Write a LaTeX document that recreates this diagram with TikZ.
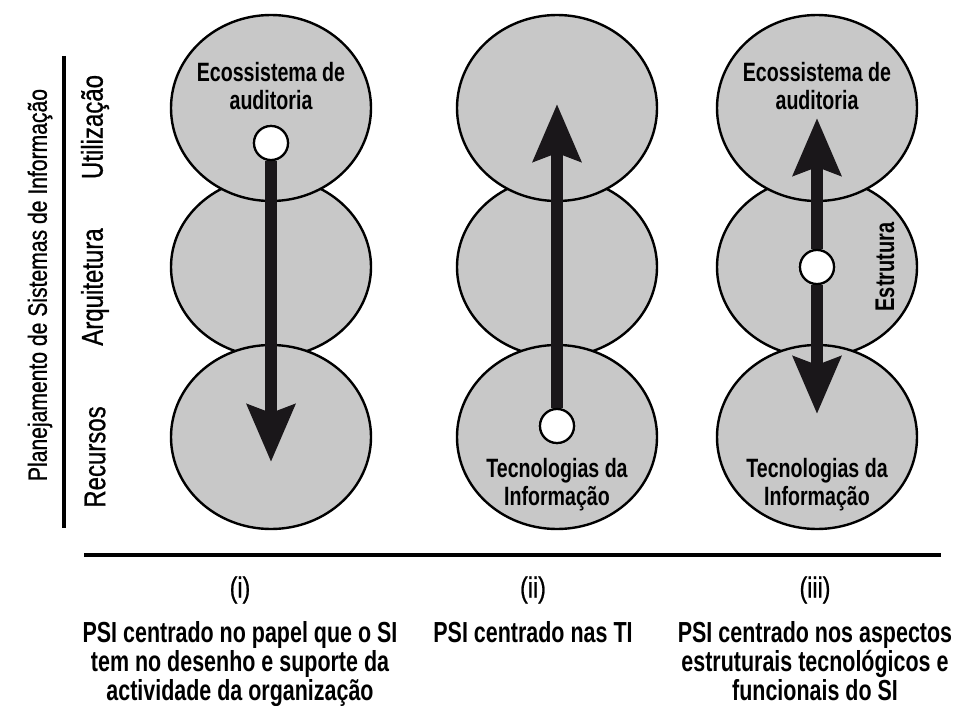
\documentclass[tikz,border=0pt]{standalone}
\usepackage{fontspec}
\setmainfont{Liberation Sans}[FakeStretch=0.74,UprightFont=*-Bold]
\newfontfamily\plainfont{Liberation Sans}[FakeStretch=0.8,FakeBold=0.8]
\usetikzlibrary{arrows.meta,shapes.geometric}
\definecolor{discfill}{RGB}{200,200,200}
\definecolor{arrowink}{RGB}{26,23,26}

\begin{document}
\begin{tikzpicture}[x=1pt,y=-1pt,
  disc/.style={ellipse,draw=black,line width=2.4pt,fill=discfill,
    minimum width=200pt,minimum height=184pt,inner sep=0pt},
  hub/.style={circle,draw=black,line width=2.2pt,fill=white,
    minimum size=34pt,inner sep=0pt},
  flow/.style={draw=arrowink,line width=12pt,
    -{Stealth[length=57pt,width=47pt,inset=8pt]}},
  disclabel/.style={align=center,font=\fontsize{26.5}{28}\selectfont,inner sep=0pt},
  sidelabel/.style={rotate=90,font=\plainfont\fontsize{30}{30}\selectfont,inner sep=0pt},
  caption/.style={align=center,font=\fontsize{29}{29}\selectfont,inner sep=0pt},
  numlabel/.style={font=\plainfont\fontsize{29}{29}\selectfont,inner sep=0pt},
  rule/.style={line width=3.6pt}
]
\useasboundingbox (0,0) rectangle (953,706);

% axis title and level labels
\node[sidelabel,font=\plainfont\fontsize{26.4}{28}\selectfont] (title) at (40,285) {Planejamento de Sistemas de Informação};
\node[sidelabel] (lvlU) at (95,127) {Utilização};
\node[sidelabel] (lvlA) at (95,287) {Arquitetura};
\node[sidelabel] (lvlR) at (95,457) {Recursos};
\coordinate (vtop) at (64,56);
\coordinate (vbot) at (64,528);
\draw[rule] (vtop) -- (vbot);
\coordinate (hl) at (84,555);
\coordinate (hr) at (941,555);
\draw[rule] (hl) -- (hr);

% three stacks of discs: middle first, then top and bottom over it
\foreach \c/\x in {a/271,b/557,c/817}{
  \node[disc,minimum height=180pt] (\c mid) at (\x,267) {};
  \node[disc,minimum height=186pt] (\c top) at (\x,108) {};
  \node[disc] (\c bot) at (\x,437) {};
}

% (i) from the top level downwards
\node[hub] (ahub) at (271,143) {};
\coordinate (atip) at (271,462);
\draw[flow] (ahub) -- (atip);
\node[hub] at (ahub) {};

% (ii) from the bottom level upwards
\node[hub] (bhub) at (557,426) {};
\coordinate (btip) at (557,104);
\draw[flow] (bhub) -- (btip);
\node[hub] at (bhub) {};

% (iii) from the middle level both ways
\node[hub] (chub) at (817,267) {};
\coordinate (ctipu) at (817,118);
\coordinate (ctipd) at (817,414);
\draw[flow] (chub) -- (ctipu);
\draw[flow] (chub) -- (ctipd);
\node[hub] at (chub) {};

% labels inside the discs
\node[disclabel] (aeco) at (271,86) {Ecossistema de\\auditoria};
\node[disclabel] (ceco) at (817,86) {Ecossistema de\\auditoria};
\node[disclabel] (bti) at (557,485) {Tecnologias da\\Informação};
\node[disclabel] (cti) at (817,485) {Tecnologias da\\Informação};
\node[rotate=90,font=\fontsize{27}{28}\selectfont,inner sep=0pt] (cest) at (885,267) {Estrutura};

% numbering and captions
\node[numlabel] (ni) at (240,590) {(i)};
\node[numlabel] (nii) at (533,590) {(ii)};
\node[numlabel] (niii) at (815,590) {(iii)};
\node[caption,anchor=north] (capi) at (240,621) {PSI centrado no papel que o SI\\tem no desenho e suporte da\\actividade da organização};
\node[caption,anchor=north] (capii) at (533,621) {PSI centrado nas TI};
\node[caption,anchor=north] (capiii) at (815,621) {PSI centrado nos aspectos\\estruturais tecnológicos e\\funcionais do SI};
\end{tikzpicture}
\end{document}
